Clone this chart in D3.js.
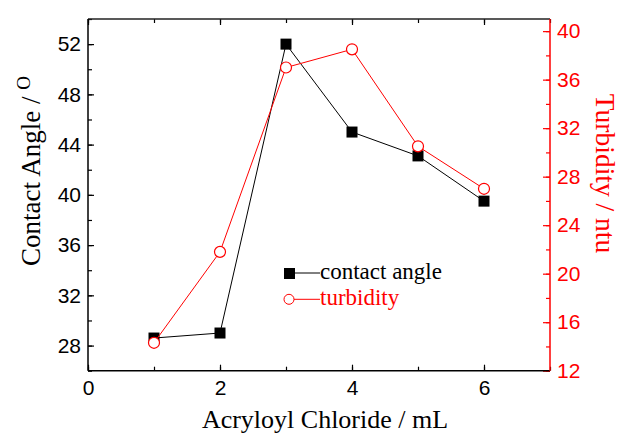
<!DOCTYPE html>
<html><head><meta charset="utf-8">
<script src="https://cdn.jsdelivr.net/npm/d3@7"></script>
<style>body{margin:0;background:#fff}</style>
</head><body>
<svg id="c" width="620" height="435"></svg>
<script>
const xValues = [1, 2, 3, 4, 5, 6];
const contactAngle = [28.6, 29.0, 52.0, 45.0, 43.1, 39.5];
const turbidity = [14.3, 21.8, 37.0, 38.5, 30.5, 27.0];
const xTickLabels = [0, 2, 4, 6];
const leftTickLabels = [28, 32, 36, 40, 44, 48, 52];
const rightTickLabels = [12, 16, 20, 24, 28, 32, 36, 40];
const seriesNames = ["contact angle", "turbidity"];

const svg = d3.select("#c");
const L = 88, R = 550, T = 19, B = 370.7;
const x = d3.scaleLinear().domain([0, 7]).range([L, R]);
const yL = d3.scaleLinear().domain([26, 54]).range([B, T]);
const yR = d3.scaleLinear().domain([12, 41]).range([B, T]);
const RED = "#ff0000";
const tickFont = "'Liberation Sans', Arial, sans-serif";
const serif = "'Liberation Serif', 'Times New Roman', serif";
const TF = 21;

function styleAxis(g, color, fontSize) {
  g.select(".domain").remove();
  g.selectAll("line").attr("stroke", color).attr("stroke-width", 1.2);
  g.selectAll("text").attr("fill", color).style("font-family", tickFont).style("font-size", fontSize + "px");
}

// minor ticks
const xMinor = d3.range(0, 8, 1);
const yLMinor = d3.range(26, 55, 2);
const yRMinor = d3.range(12, 42, 2);

// bottom
svg.append("g").attr("transform", `translate(0,${B})`)
  .call(d3.axisBottom(x).tickValues(xMinor).tickSize(-4).tickFormat(""))
  .call(g => styleAxis(g, "#000", TF));
svg.append("g").attr("transform", `translate(0,${B})`)
  .call(d3.axisBottom(x).tickValues(xTickLabels).tickSizeInner(-6).tickSizeOuter(0).tickPadding(9.5).tickFormat(d3.format("d")))
  .call(g => styleAxis(g, "#000", TF));
// top
svg.append("g").attr("transform", `translate(0,${T})`)
  .call(d3.axisTop(x).tickValues(xMinor).tickSize(-4).tickFormat(""))
  .call(g => styleAxis(g, "#000", TF));
svg.append("g").attr("transform", `translate(0,${T})`)
  .call(d3.axisTop(x).tickValues(xTickLabels).tickSize(-6).tickFormat(""))
  .call(g => styleAxis(g, "#000", TF));
// left
svg.append("g").attr("transform", `translate(${L},0)`)
  .call(d3.axisLeft(yL).tickValues(yLMinor).tickSize(-4).tickFormat(""))
  .call(g => styleAxis(g, "#000", TF));
svg.append("g").attr("transform", `translate(${L},0)`)
  .call(d3.axisLeft(yL).tickValues(leftTickLabels).tickSizeInner(-6).tickSizeOuter(0).tickPadding(7).tickFormat(d3.format("d")))
  .call(g => styleAxis(g, "#000", TF));
// right
svg.append("g").attr("transform", `translate(${R},0)`)
  .call(d3.axisRight(yR).tickValues(yRMinor).tickSize(-4).tickFormat(""))
  .call(g => styleAxis(g, RED, TF));
svg.append("g").attr("transform", `translate(${R},0)`)
  .call(d3.axisRight(yR).tickValues(rightTickLabels).tickSizeInner(-7).tickSizeOuter(0).tickPadding(7).tickFormat(d3.format("d")))
  .call(g => styleAxis(g, RED, TF));

// frame lines
svg.append("line").attr("x1", L).attr("x2", R).attr("y1", T).attr("y2", T).attr("stroke", "#222").attr("stroke-width", 1.5);
svg.append("line").attr("x1", L).attr("x2", R).attr("y1", B).attr("y2", B).attr("stroke", "#000").attr("stroke-width", 1.5);
svg.append("line").attr("x1", L).attr("x2", L).attr("y1", T).attr("y2", B).attr("stroke", "#000").attr("stroke-width", 1.5);
svg.append("line").attr("x1", R).attr("x2", R).attr("y1", T).attr("y2", B).attr("stroke", RED).attr("stroke-width", 1.5);

// series
const caData = xValues.map((v, i) => [v, contactAngle[i]]);
const tuData = xValues.map((v, i) => [v, turbidity[i]]);
svg.append("path").datum(caData)
  .attr("d", d3.line().x(d => x(d[0])).y(d => yL(d[1])))
  .attr("fill", "none").attr("stroke", "#000").attr("stroke-width", 1);
svg.selectAll(".sq").data(caData).enter().append("rect")
  .attr("x", d => x(d[0]) - 5.5).attr("y", d => yL(d[1]) - 5.5)
  .attr("width", 11).attr("height", 11).attr("fill", "#000");
svg.append("path").datum(tuData)
  .attr("d", d3.line().x(d => x(d[0])).y(d => yR(d[1])))
  .attr("fill", "none").attr("stroke", RED).attr("stroke-width", 1);
svg.selectAll(".ci").data(tuData).enter().append("circle")
  .attr("cx", d => x(d[0])).attr("cy", d => yR(d[1])).attr("r", 5.5)
  .attr("fill", "#fff").attr("stroke", RED).attr("stroke-width", 1.2);

// legend
const lg = svg.append("g");
lg.append("rect").attr("x", 284).attr("y", 268).attr("width", 11).attr("height", 11).attr("fill", "#000");
lg.append("line").attr("x1", 295).attr("x2", 320).attr("y1", 273).attr("y2", 273).attr("stroke", "#000").attr("stroke-width", 1);
lg.append("text").attr("x", 320).attr("y", 279).text(seriesNames[0])
  .style("font-family", serif).style("font-size", "23px").attr("fill", "#000");
lg.append("circle").attr("cx", 289).attr("cy", 299.3).attr("r", 5).attr("fill", "#fff").attr("stroke", RED).attr("stroke-width", 1);
lg.append("line").attr("x1", 294).attr("x2", 320).attr("y1", 299.3).attr("y2", 299.3).attr("stroke", RED).attr("stroke-width", 1);
lg.append("text").attr("x", 320).attr("y", 305).text(seriesNames[1])
  .style("font-family", serif).style("font-size", "23px").attr("fill", RED);

// axis titles
svg.append("text").attr("x", 325).attr("y", 428).attr("text-anchor", "middle")
  .style("font-family", serif).style("font-size", "26px").attr("fill", "#000")
  .text("Acryloyl Chloride / mL");
const lt = svg.append("text").attr("transform", "translate(40,171) rotate(-90)").attr("text-anchor", "middle")
  .style("font-family", serif).style("font-size", "27px").attr("fill", "#000");
lt.append("tspan").text("Contact Angle / ");
lt.append("tspan").attr("dy", -10).style("font-size", "19px").text("O");
svg.append("text").attr("transform", "translate(596,173.5) rotate(90)").attr("text-anchor", "middle")
  .style("font-family", serif).style("font-size", "27.5px").attr("fill", RED)
  .text("Turbidity / ntu");
</script>
</body></html>
